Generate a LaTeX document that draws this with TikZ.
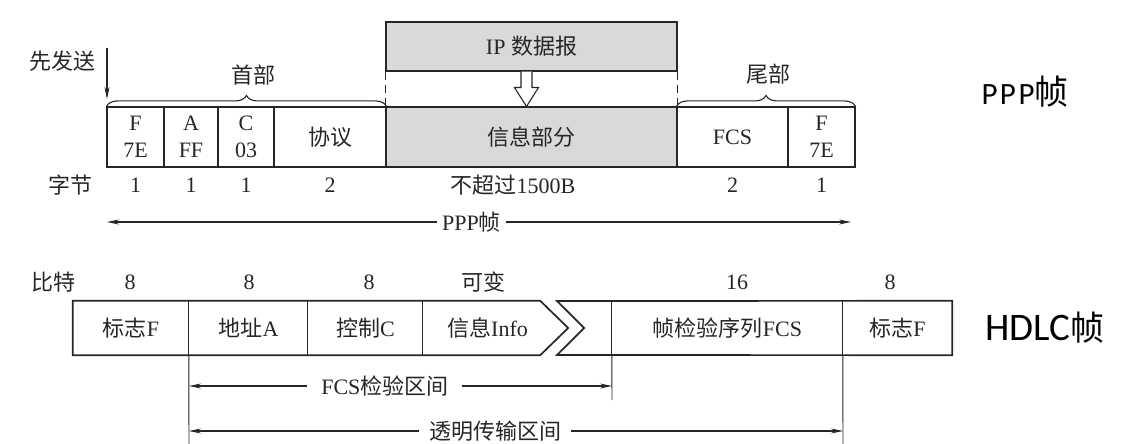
\documentclass[tikz,border=0pt]{standalone}
\usepackage{fontspec}
\setmainfont{Liberation Serif}
\newfontfamily\zhfont{Noto Sans CJK SC}
\newfontfamily\framefont{Carlito}
\newfontfamily\framewidefont[LetterSpace=8]{Carlito}
\usetikzlibrary{arrows.meta,calc,decorations.pathreplacing}
\newcommand{\zh}[1]{{\zhfont #1}}

\begin{document}
\begin{tikzpicture}[x=1pt, y=-1pt,
    every node/.style={text=black!85, font=\fontsize{22}{27}\selectfont},
    pcell/.style={draw=black!85, line width=1.1pt, minimum height=60pt, inner sep=0pt, align=center},
    hcell/.style={minimum height=54pt, inner sep=0pt},
    outline/.style={draw=black!85, line width=1.7pt, line join=miter},
    divider/.style={draw=black!85, line width=0.9pt},
    oneway/.style={draw=black!85, line width=1.1pt, -{Stealth[length=12pt,width=5pt]}},
    twoway/.style={draw=black!85, line width=1.1pt, {Stealth[length=12pt,width=5pt]}-{Stealth[length=12pt,width=5pt]}},
    gap/.style={fill=white, inner ysep=1pt}]
  \useasboundingbox (0,0) rectangle (1144,444);

  % PPP frame
  \node[pcell, minimum width=57pt] (pF) at (135.5,137) {F\\7E};
  \node[pcell, minimum width=54pt] (pA) at (191,137) {A\\FF};
  \node[pcell, minimum width=56pt] (pC) at (246,137) {C\\03};
  \node[pcell, minimum width=112pt] (pP) at (330,137) {\zh{协议}};
  \node[pcell, minimum width=291pt, fill=black!15] (pI) at (531.5,137) {\zh{信息部分}};
  \node[pcell, minimum width=111pt] (pS) at (732.5,137) {FCS};
  \node[pcell, minimum width=67pt] (pE) at (821.5,137) {F\\7E};

  \node[pcell, minimum width=291pt, minimum height=49pt, fill=black!15] (ip) at (531.5,46.5) {IP \zh{数据报}};
  \draw[divider, line width=1.1pt, dash pattern=on 8pt off 5pt] (ip.south west) -- (pI.north west);
  \draw[divider, line width=1.1pt, dash pattern=on 8pt off 5pt] (ip.south east) -- (pI.north east);
  \coordinate (ha) at ($(ip.south)+(-5,0)$);
  \draw[divider, line width=1.1pt, fill=white] ($(ha)+(-5.5,0)$) -- ++(0,16) -- ++(-6.5,0)
      -- (ha |- pI.north) -- ($(ha)+(12,16)$) -- ++(-6.5,0) -- ++(0,-16);

  \draw[divider, line width=1.1pt, decorate, decoration={brace, amplitude=11pt}] (pF.north west) -- (pP.north east);
  \draw[divider, line width=1.1pt, decorate, decoration={brace, amplitude=11pt}] (pS.north west) -- (pE.north east);
  \node (head) at (253,75) {\zh{首部}};
  \node (tail) at (768,74) {\zh{尾部}};

  \node (send) at (62,61) {\zh{先发送}};
  \coordinate (s0) at (107,48);
  \coordinate (s1) at (107,99);
  \draw[oneway] (s0) -- (s1);

  \node (byte) at (70,185) {\zh{字节}};
  \node (bF) at (pF |- byte) {1};
  \node (bA) at (pA |- byte) {1};
  \node (bC) at (pC |- byte) {1};
  \node (bP) at (pP |- byte) {2};
  \node (bI) at (513,185) {\zh{不超过}1500B};
  \node (bS) at (pS |- byte) {2};
  \node (bE) at (pE |- byte) {1};

  \coordinate (pl) at (107,222);
  \coordinate (pr) at (851,222);
  \draw[twoway] (pl) -- node[gap, inner xsep=5pt, pos=0.49] (pppmid) {PPP\zh{帧}} (pr);

  \node[text=black, font=\fontsize{34}{40}\selectfont] (pppname) at (1025,92)
      {{\framewidefont\fontsize{31}{36}\selectfont PPP}\zh{帧}};

  % HDLC frame
  \node (bits) at (53,282) {\zh{比特}};
  \node (n1) at (130,282) {8};
  \node (n2) at (249,282) {8};
  \node (n3) at (369,282) {8};
  \node (n4) at (483,282) {\zh{可变}};
  \node (n5) at (737,282) {16};
  \node (n6) at (890,282) {8};

  \node[hcell, minimum width=116pt] (h1) at (131,328) {\zh{标志}F};
  \node[hcell, minimum width=119pt] (h2) at (248.5,328) {\zh{地址}A};
  \node[hcell, minimum width=115pt] (h3) at (365.5,328) {\zh{控制}C};
  \node[hcell, minimum width=117pt] (h4) at (481.5,328) {\hspace*{12pt}\zh{信息}Info};
  \node[hcell, minimum width=231pt] (h5) at (727.5,328) {\zh{帧检验序列}FCS};
  \node[hcell, minimum width=109pt] (h6) at (897.5,328) {\zh{标志}F};

  \coordinate (g1) at (557,301);
  \coordinate (g2) at (557,355);
  \draw[outline] (h1.north west) -- (h4.north east) -- ($(h4.east)+(28,0)$) -- (h4.south east) -- (h1.south west) -- cycle;
  \draw[outline] (g1) -- (h6.north east) -- (h6.south east) -- (g2) -- ($(h4.east)+(44,0)$) -- cycle;
  \draw[divider] (h2.north west) -- (h2.south west);
  \draw[divider] (h3.north west) -- (h3.south west);
  \draw[divider] (h4.north west) -- (h4.south west);
  \draw[divider] (h5.north west) -- (h5.south west);
  \draw[divider] (h6.north west) -- (h6.south west);

  \coordinate (d1) at (189,450);
  \coordinate (d2) at (612,400);
  \coordinate (d3) at (843,450);
  \draw[divider] (h2.south west) -- (d1);
  \draw[divider] (h5.south west) -- (d2);
  \draw[divider] (h6.south west) -- (d3);

  \coordinate (f0) at (189,386);
  \coordinate (f1) at (612,386);
  \draw[twoway] (f0) -- node[gap, inner xsep=14pt, pos=0.463] (fcs) {FCS\zh{检验区间}} (f1);
  \coordinate (t0) at (189,431);
  \coordinate (t1) at (843,431);
  \draw[twoway] (t0) -- node[gap, inner xsep=10pt, pos=0.468] (trans) {\zh{透明传输区间}} (t1);

  \node[text=black, font=\fontsize{34}{40}\selectfont] (hdlcname) at (1045,328)
      {{\framefont\fontsize{39}{44}\selectfont HDLC}\zh{帧}};
\end{tikzpicture}
\end{document}
